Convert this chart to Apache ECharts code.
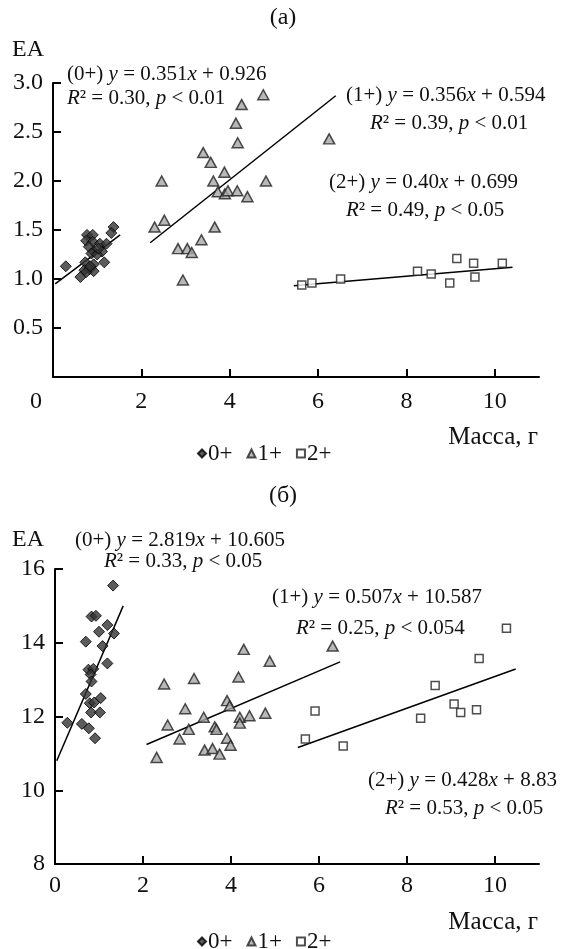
<!DOCTYPE html>
<html>
<head>
<meta charset="utf-8">
<script src="https://cdn.jsdelivr.net/npm/echarts@6/dist/echarts.min.js"></script>
<style>
  html, body { margin: 0; padding: 0; background: #fff; }
  #chart { width: 567px; height: 949px; }
</style>
</head>
<body>
<div id="chart"></div>
<script>
// ---- data ----
var groups = ['0+', '1+', '2+'];
var xTicks = [0, 2, 4, 6, 8, 10];

// (а) top panel
var topAge0 = [[0.29,1.13],[1.37,1.53],[1.32,1.47],[0.77,1.45],[0.90,1.45],[0.75,1.39],[0.90,1.38],
  [1.06,1.36],[1.21,1.36],[0.81,1.33],[0.92,1.28],[1.11,1.28],[0.87,1.26],[1.00,1.25],[0.73,1.17],
  [0.92,1.15],[1.16,1.17],[0.71,1.09],[0.83,1.10],[0.92,1.08],[0.75,1.07],[0.62,1.02],[0.84,1.13],[1.03,1.31]];
var topAge1 = [[4.76,2.88],[4.27,2.78],[4.14,2.59],[4.18,2.39],[6.25,2.43],[3.40,2.29],[3.57,2.19],
  [2.46,2.00],[3.88,2.09],[3.63,2.00],[4.82,2.00],[3.73,1.89],[3.89,1.87],[3.96,1.90],[4.17,1.90],
  [4.40,1.84],[2.52,1.60],[2.30,1.53],[3.66,1.53],[3.36,1.40],[2.83,1.31],[3.04,1.31],[3.14,1.27],[2.94,0.99]];
var topAge2 = [[5.63,0.94],[5.86,0.96],[6.51,1.00],[8.25,1.08],[8.56,1.05],[8.98,0.96],[9.14,1.21],
  [9.52,1.16],[9.55,1.02],[10.17,1.16]];
var topFit0 = [[0.05,0.95],[1.52,1.45]];
var topFit1 = [[2.2,1.37],[6.4,2.87]];
var topFit2 = [[5.45,0.93],[10.4,1.12]];

// (б) bottom panel
var botAge0 = [[1.32,15.55],[0.83,14.71],[0.93,14.73],[1.19,14.48],[1.00,14.30],[1.34,14.25],[0.70,14.03],
  [1.08,13.91],[1.19,13.44],[0.76,13.27],[0.87,13.29],[0.81,13.14],[0.83,12.95],[0.70,12.61],[1.04,12.50],
  [0.79,12.36],[0.89,12.38],[0.82,12.11],[1.02,12.11],[0.28,11.83],[0.61,11.80],[0.77,11.68],[0.91,11.41]];
var botAge1 = [[4.29,13.82],[6.31,13.91],[4.88,13.50],[4.17,13.07],[3.91,12.43],[3.97,12.29],[3.38,11.98],
  [4.20,11.98],[4.42,12.02],[4.78,12.09],[4.20,11.82],[3.63,11.72],[3.67,11.65],[3.91,11.41],[3.99,11.22],
  [3.40,11.09],[3.58,11.13],[3.74,10.98],[2.48,12.88],[3.16,13.03],[2.96,12.21],[2.56,11.77],[3.04,11.65],
  [2.83,11.39],[2.31,10.89]];
var botAge2 = [[10.26,14.39],[9.64,13.57],[8.64,12.84],[9.07,12.34],[9.22,12.11],[9.58,12.18],[8.31,11.95],
  [5.91,12.15],[5.69,11.39],[6.55,11.20]];
var botFit0 = [[0.04,10.8],[1.55,15.0]];
var botFit1 = [[2.08,11.24],[6.48,13.48]];
var botFit2 = [[5.52,11.16],[10.47,13.29]];

// ---- styles ----
var FONT = 'Liberation Serif';
var INK = '#111';
var NOTE = 21;   // annotation size
var AXIS = 24;   // tick labels
var marks = {
  '0+': { symbol: 'diamond', symbolSize: 11, itemStyle: { color: '#333', borderColor: '#000', borderWidth: 1 } },
  '1+': { symbol: 'triangle', symbolSize: [11, 10], itemStyle: { color: '#a6a6a6', borderColor: '#222', borderWidth: 1.5 } },
  '2+': { symbol: 'rect', symbolSize: 8, itemStyle: { color: '#fff', borderColor: '#222', borderWidth: 1.5 } }
};

function scatter(name, data, idx) {
  var m = marks[name];
  return {
    type: 'scatter', name: name, data: data, xAxisIndex: idx, yAxisIndex: idx,
    symbol: m.symbol, symbolSize: m.symbolSize, itemStyle: m.itemStyle, z: 3
  };
}
function fit(data, idx) {
  return {
    type: 'line', data: data, xAxisIndex: idx, yAxisIndex: idx, symbol: 'none',
    lineStyle: { color: '#000', width: 1.5 }, silent: true, z: 2
  };
}

function xAxis(idx, shiftZero, margin) {
  return {
    type: 'value', gridIndex: idx, min: 0, max: 11,
    axisLine: { show: true, lineStyle: { color: '#000', width: 2 } },
    axisTick: { show: true, inside: true, length: 8, customValues: xTicks, lineStyle: { color: '#000', width: 2 } },
    axisLabel: {
      customValues: xTicks, margin: margin, color: INK, fontFamily: FONT, fontSize: AXIS,
      formatter: function (v) { return (shiftZero && v === 0) ? '{z|0}' : String(v); },
      rich: { z: { fontFamily: FONT, fontSize: AXIS, color: INK, padding: [0, 34, 0, 0] } }
    },
    splitLine: { show: false }
  };
}
function yAxis(idx, min, max, step, digits) {
  return {
    type: 'value', gridIndex: idx, min: min, max: max, interval: step,
    axisLine: { show: true, lineStyle: { color: '#000', width: 2 } },
    axisTick: { show: true, inside: true, length: 8, lineStyle: { color: '#000', width: 2 } },
    axisLabel: {
      margin: 10, color: INK, fontFamily: FONT, fontSize: AXIS, showMinLabel: digits === 0,
      formatter: function (v) { return v.toFixed(digits); }
    },
    splitLine: { show: false }
  };
}

var rich = {
  i: { fontFamily: FONT, fontSize: NOTE, fontStyle: 'italic', fill: INK, color: INK }
};
function note(x, y, text, size, align) {
  return {
    type: 'text', x: x, y: y, silent: true,
    style: {
      text: text, fill: INK, fontFamily: FONT, fontSize: size || NOTE,
      align: align || 'left', verticalAlign: 'middle', rich: rich
    }
  };
}

var legendData = groups.map(function (g) { return { name: g }; });
function legend(top) {
  return {
    data: legendData, top: top, left: 192, itemWidth: 8, itemHeight: 8, itemGap: 14,
    selectedMode: false,
    textStyle: { fontFamily: FONT, fontSize: 23, color: INK, padding: [0, 0, 0, -3] }
  };
}

var chart = echarts.init(document.getElementById('chart'));
chart.setOption({
  backgroundColor: '#fff',
  animation: false,
  grid: [
    { left: 53, top: 83, width: 486, height: 294 },
    { left: 55, top: 569, width: 484, height: 295 }
  ],
  xAxis: [xAxis(0, true, 13), xAxis(1, false, 10)],
  yAxis: [yAxis(0, 0, 3, 0.5, 1), yAxis(1, 8, 16, 2, 0)],
  legend: [legend(437), legend(925)],
  series: [
    scatter('0+', topAge0, 0), scatter('1+', topAge1, 0), scatter('2+', topAge2, 0),
    fit(topFit0, 0), fit(topFit1, 0), fit(topFit2, 0),
    scatter('0+', botAge0, 1), scatter('1+', botAge1, 1), scatter('2+', botAge2, 1),
    fit(botFit0, 1), fit(botFit1, 1), fit(botFit2, 1)
  ],
  graphic: [
    note(283, 18, '(а)', AXIS, 'center'),
    note(12, 50, 'EA', AXIS),
    note(67, 74, '(0+) {i|y} = 0.351{i|x} + 0.926'),
    note(67, 98, '{i|R}² = 0.30, {i|p} < 0.01'),
    note(346, 95, '(1+) {i|y} = 0.356{i|x} + 0.594'),
    note(370, 123, '{i|R}² = 0.39, {i|p} < 0.01'),
    note(329, 182, '(2+) {i|y} = 0.40{i|x} + 0.699'),
    note(346, 210, '{i|R}² = 0.49, {i|p} < 0.05'),
    note(538, 437, 'Масса, г', 25, 'right'),

    note(283, 496, '(б)', AXIS, 'center'),
    note(12, 540, 'EA', AXIS),
    note(75, 540, '(0+) {i|y} = 2.819{i|x} + 10.605'),
    note(104, 561, '{i|R}² = 0.33, {i|p} < 0.05'),
    note(272, 597, '(1+) {i|y} = 0.507{i|x} + 10.587'),
    note(296, 628, '{i|R}² = 0.25, {i|p} < 0.054'),
    note(368, 780, '(2+) {i|y} = 0.428{i|x} + 8.83'),
    note(385, 808, '{i|R}² = 0.53, {i|p} < 0.05'),
    note(538, 922, 'Масса, г', 25, 'right')
  ]
});
</script>
</body>
</html>
